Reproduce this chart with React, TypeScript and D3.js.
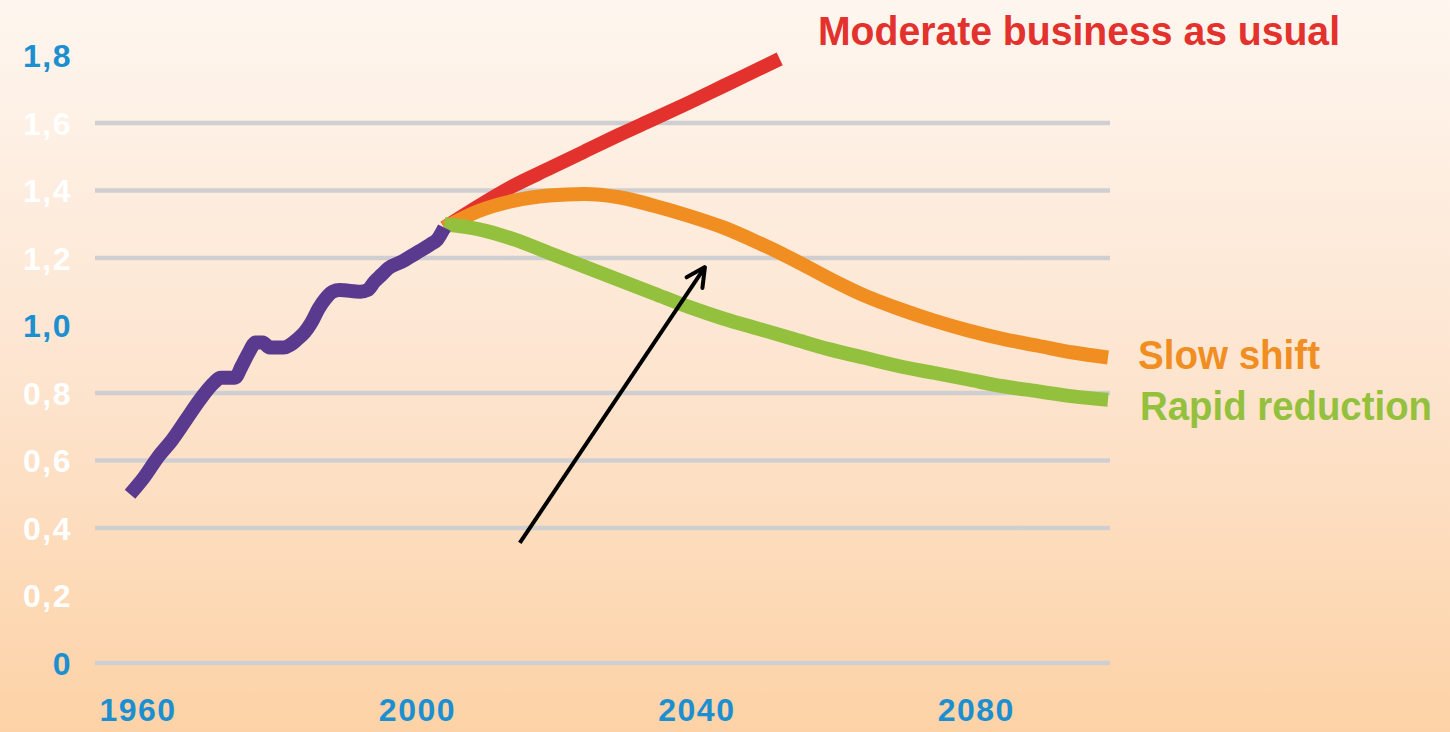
import React, { useRef, useEffect } from 'react';
import * as d3 from 'd3';

// historical footprint (number of planets)
const historyYears = [1960, 1962, 1964, 1966, 1968, 1970, 1972, 1973, 1975, 1976, 1977, 1978, 1979, 1980, 1982, 1984, 1985, 1986, 1987, 1988, 1989, 1990, 1993, 1994, 1995, 1996, 1997, 1999, 2001, 2003, 2004, 2005];
const historyValues = [0.5, 0.55, 0.61, 0.66, 0.72, 0.78, 0.83, 0.845, 0.845, 0.88, 0.92, 0.95, 0.95, 0.935, 0.935, 0.96, 0.98, 1.01, 1.05, 1.08, 1.1, 1.105, 1.1, 1.105, 1.13, 1.15, 1.17, 1.19, 1.215, 1.24, 1.255, 1.29];

// scenarios
const moderateYears = [2005, 2010, 2015, 2020, 2025, 2030, 2035, 2040, 2045, 2050, 2053];
const moderateValues = [1.29, 1.355, 1.415, 1.465, 1.515, 1.565, 1.612, 1.66, 1.71, 1.76, 1.79];

const scenarioYears = [2005, 2010, 2015, 2020, 2025, 2030, 2035, 2040, 2045, 2050, 2055, 2060, 2065, 2070, 2075, 2080, 2085, 2090, 2095, 2100];
const slowShiftValues = [1.29, 1.34, 1.37, 1.385, 1.39, 1.38, 1.355, 1.325, 1.29, 1.245, 1.195, 1.14, 1.09, 1.05, 1.015, 0.985, 0.96, 0.94, 0.92, 0.905];
const rapidValues = [1.3, 1.285, 1.255, 1.215, 1.175, 1.135, 1.095, 1.055, 1.02, 0.99, 0.96, 0.93, 0.905, 0.88, 0.86, 0.84, 0.82, 0.805, 0.79, 0.78];

// axes
const yTicks = [0, 0.2, 0.4, 0.6, 0.8, 1.0, 1.2, 1.4, 1.6, 1.8];
const yTickLabels = ['0', '0,2', '0,4', '0,6', '0,8', '1,0', '1,2', '1,4', '1,6', '1,8'];
const blueTicks = [0, 1.0, 1.8];
const gridValues = [0, 0.4, 0.6, 0.8, 1.2, 1.4, 1.6];
const xTicks = [1960, 2000, 2040, 2080];

// arrow annotation (year, value)
const arrowFrom = [2015.8, 0.356];
const arrowTo = [2042.3, 1.173];

const App = () => {
  const chartRef = useRef(null);

  useEffect(() => {
    const width = 1450;
    const height = 732;
    const blue = '#1b8fd0';
    const font = "'Liberation Sans', Arial, Helvetica, sans-serif";

    d3.select(chartRef.current).selectAll('*').remove();

    const svg = d3
      .select(chartRef.current)
      .append('svg')
      .attr('width', width)
      .attr('height', height)
      .style('display', 'block');

    // background gradient
    const grad = svg
      .append('defs')
      .append('linearGradient')
      .attr('id', 'bg')
      .attr('x1', 0)
      .attr('y1', 0)
      .attr('x2', 0)
      .attr('y2', 1);
    grad.append('stop').attr('offset', '0%').attr('stop-color', '#fef6ef');
    grad.append('stop').attr('offset', '50%').attr('stop-color', '#fde5d0');
    grad.append('stop').attr('offset', '100%').attr('stop-color', '#fdd2a6');
    svg.append('rect').attr('width', width).attr('height', height).attr('fill', 'url(#bg)');

    const x = d3.scaleLinear().domain([1960, 2100]).range([130, 1108]);
    const y = d3.scaleLinear().domain([0, 1.8]).range([663, 55.5]);

    // gridlines
    svg
      .append('g')
      .selectAll('line')
      .data(gridValues)
      .join('line')
      .attr('x1', 95)
      .attr('x2', 1110)
      .attr('y1', (d) => y(d))
      .attr('y2', (d) => y(d))
      .attr('stroke', '#cfcfd1')
      .attr('stroke-width', 4.5);

    // y labels
    svg
      .append('g')
      .selectAll('text')
      .data(yTicks)
      .join('text')
      .attr('x', 72)
      .attr('y', (d) => y(d))
      .attr('dy', '0.36em')
      .attr('text-anchor', 'end')
      .attr('font-family', font)
      .attr('font-weight', 'bold')
      .attr('font-size', 32)
      .attr('letter-spacing', 1.5)
      .attr('fill', (d) => (blueTicks.includes(d) ? blue : '#ffffff'))
      .text((d, i) => yTickLabels[i]);

    // x labels
    svg
      .append('g')
      .selectAll('text')
      .data(xTicks)
      .join('text')
      .attr('x', (d) => x(d) + 8)
      .attr('y', 721)
      .attr('text-anchor', 'middle')
      .attr('font-family', font)
      .attr('font-weight', 'bold')
      .attr('font-size', 32)
      .attr('letter-spacing', 1.5)
      .attr('fill', blue)
      .text((d) => d);

    const line = d3
      .line()
      .curve(d3.curveMonotoneX)
      .x((d) => x(d[0]))
      .y((d) => y(d[1]));

    const series = [
      { years: moderateYears, values: moderateValues, color: '#e3312d' },
      { years: scenarioYears, values: slowShiftValues, color: '#f18e22' },
      { years: scenarioYears, values: rapidValues, color: '#93c13d' },
      { years: historyYears, values: historyValues, color: '#5a3a8e' },
    ];

    series.forEach((s) => {
      svg
        .append('path')
        .datum(s.years.map((yr, i) => [yr, s.values[i]]))
        .attr('fill', 'none')
        .attr('stroke', s.color)
        .attr('stroke-width', 14)
        .attr('stroke-linejoin', 'round')
        .attr('d', line);
    });

    // series labels
    const labels = [
      { text: 'Moderate business as usual', color: '#e3312d', x: 818, y: 45, len: 522 },
      { text: 'Slow shift', color: '#f18e22', x: 1138, y: 369, len: 182 },
      { text: 'Rapid reduction', color: '#93c13d', x: 1140, y: 420, len: 292 },
    ];
    svg
      .append('g')
      .selectAll('text')
      .data(labels)
      .join('text')
      .attr('x', (d) => d.x)
      .attr('y', (d) => d.y)
      .attr('font-family', font)
      .attr('font-weight', 'bold')
      .attr('font-size', 40)
      .attr('textLength', (d) => d.len)
      .attr('lengthAdjust', 'spacingAndGlyphs')
      .attr('fill', (d) => d.color)
      .text((d) => d.text);

    // arrow
    const x0 = x(arrowFrom[0]);
    const y0 = y(arrowFrom[1]);
    const x1 = x(arrowTo[0]);
    const y1 = y(arrowTo[1]);
    const ang = Math.atan2(y0 - y1, x0 - x1);
    const headLen = 21;
    const spread = (27 * Math.PI) / 180;
    svg
      .append('line')
      .attr('x1', x0)
      .attr('y1', y0)
      .attr('x2', x1)
      .attr('y2', y1)
      .attr('stroke', '#000')
      .attr('stroke-width', 4);
    svg
      .append('path')
      .attr(
        'd',
        `M${x1 + headLen * Math.cos(ang - spread)},${y1 + headLen * Math.sin(ang - spread)}L${x1},${y1}L${
          x1 + headLen * Math.cos(ang + spread)
        },${y1 + headLen * Math.sin(ang + spread)}`
      )
      .attr('fill', 'none')
      .attr('stroke', '#000')
      .attr('stroke-width', 4)
      .attr('stroke-linejoin', 'round')
      .attr('stroke-linecap', 'round');
  }, []);

  return (
    <div>
      <style>{'body{margin:0}'}</style>
      <div ref={chartRef}></div>
    </div>
  );
};

export default App;
